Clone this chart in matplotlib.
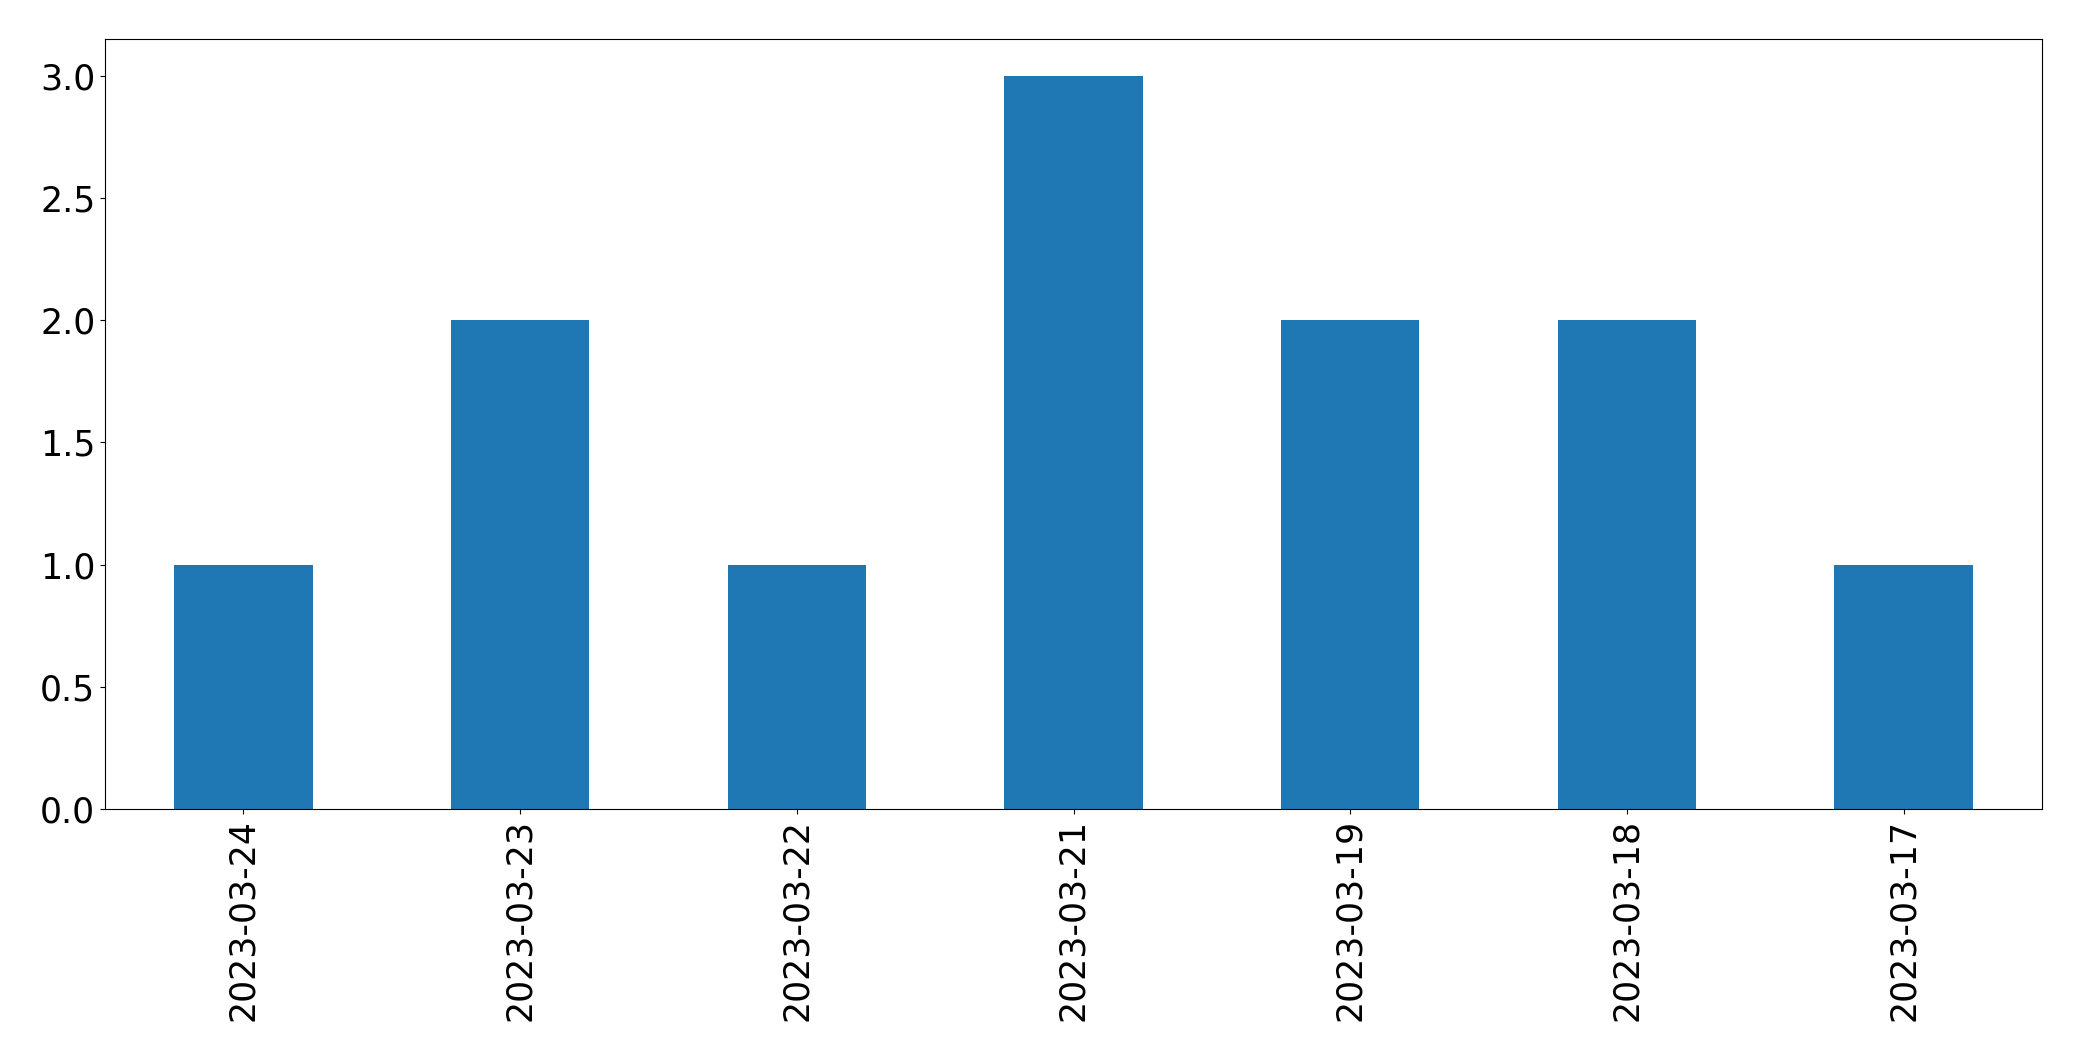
import matplotlib
matplotlib.use("Agg")
import matplotlib.pyplot as plt
import numpy as np

dates = ["2023-03-24", "2023-03-23", "2023-03-22", "2023-03-21",
         "2023-03-19", "2023-03-18", "2023-03-17"]
counts = [1, 2, 1, 3, 2, 2, 1]

fig = plt.figure(figsize=(20.82, 10.61), dpi=100)
ax = fig.add_axes([105 / 2082, 1 - 809 / 1061, (2042 - 105) / 2082, (809 - 39) / 1061])

x = np.arange(len(dates))
ax.bar(x, counts, width=0.5, color="#1f77b4")
ax.set_xlim(-0.5, len(dates) - 0.5)
ax.set_xticks(x)
ax.set_xticklabels(dates, rotation=90)
ax.tick_params(axis="both", labelsize=25)

fig.savefig("out.png", dpi=100)
